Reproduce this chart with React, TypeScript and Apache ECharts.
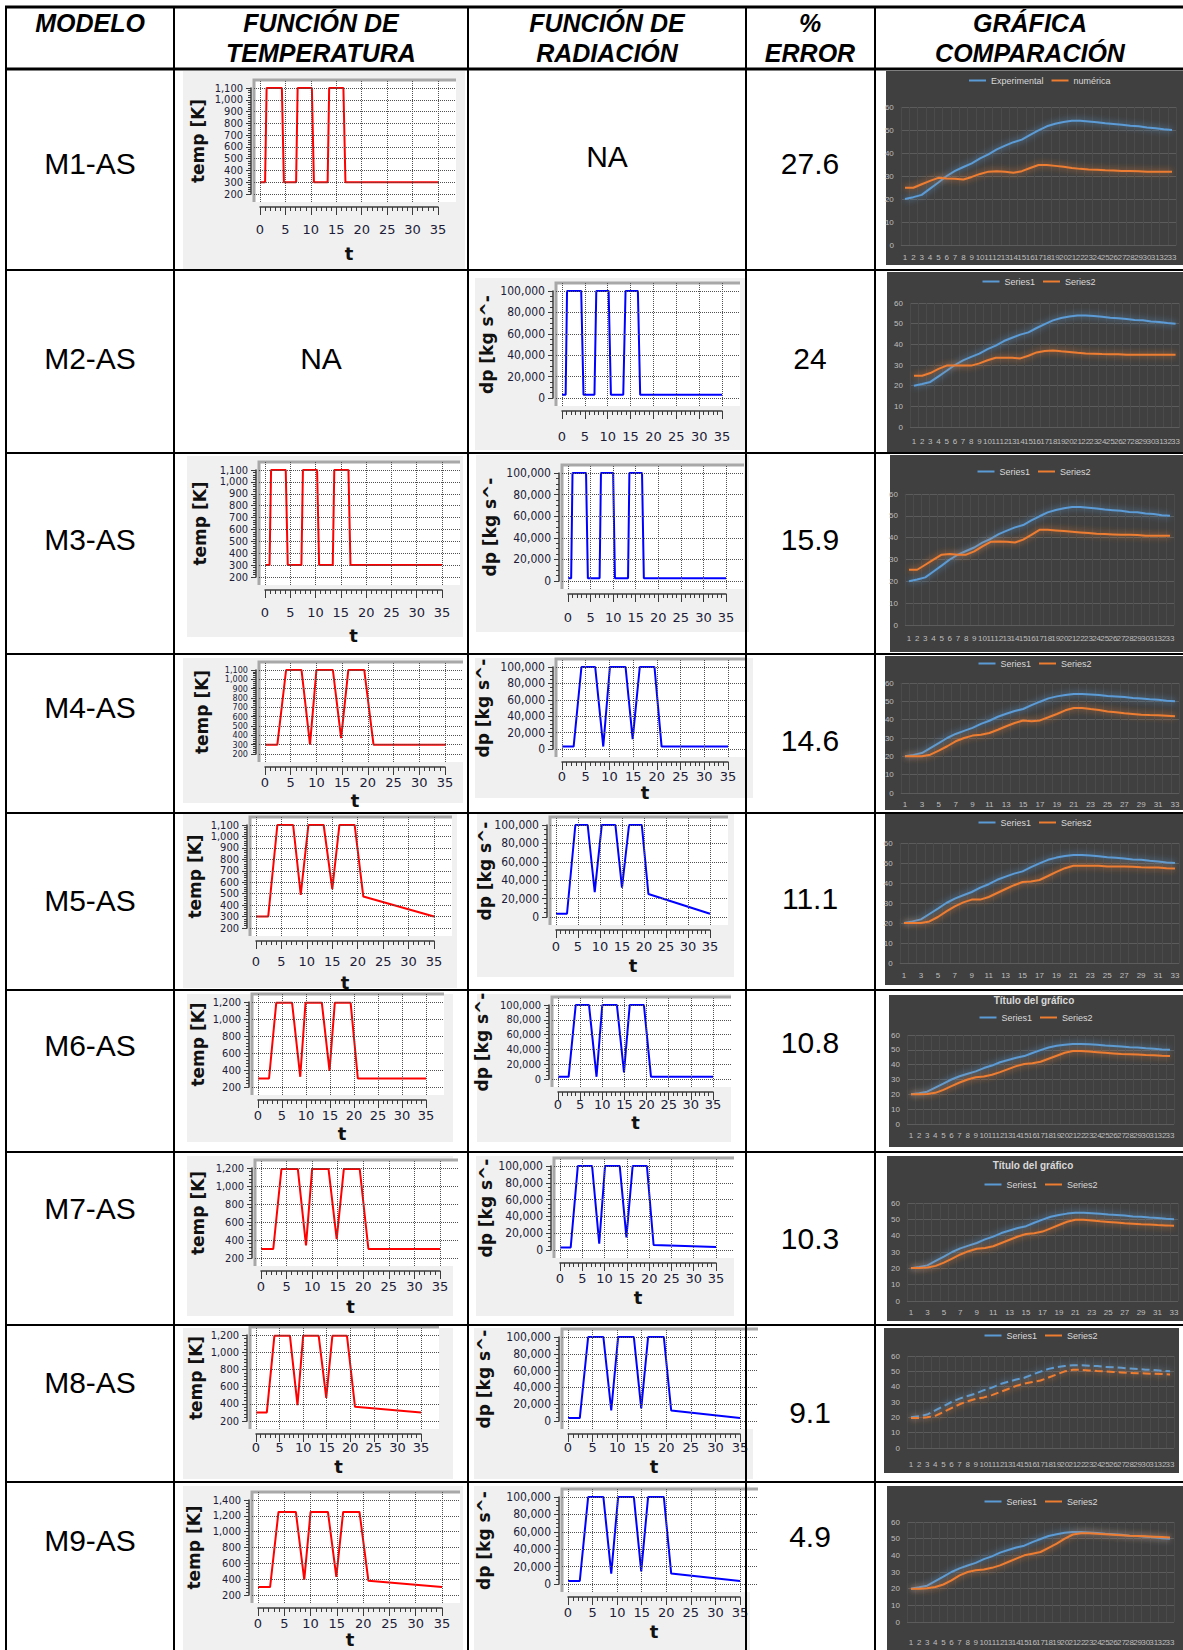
import React, { useEffect, useRef } from "react";
import * as echarts from "echarts";

type Pt = [number, number];

const W = 1183;
const H = 1650;

// ---------- table texts ----------
const headers: string[][] = [["MODELO"], ["FUNCIÓN DE", "TEMPERATURA"], ["FUNCIÓN DE", "RADIACIÓN"], ["%", "ERROR"], ["GRÁFICA", "COMPARACIÓN"]];
const models = ["M1-AS", "M2-AS", "M3-AS", "M4-AS", "M5-AS", "M6-AS", "M7-AS", "M8-AS", "M9-AS"];
const errors = ["27.6", "24", "15.9", "14.6", "11.1", "10.8", "10.3", "9.1", "4.9"];

// ---------- tick values ----------
const tTicks = [0, 5, 10, 15, 20, 25, 30, 35];
const temp1100Ticks = [200, 300, 400, 500, 600, 700, 800, 900, 1000, 1100];
const temp1200Ticks = [200, 400, 600, 800, 1000, 1200];
const temp1400Ticks = [200, 400, 600, 800, 1000, 1200, 1400];
const radTicks = [0, 20000, 40000, 60000, 80000, 100000];
const compCategories = ["1", "2", "3", "4", "5", "6", "7", "8", "9", "10", "11", "12", "13", "14", "15", "16", "17", "18", "19", "20", "21", "22", "23", "24", "25", "26", "27", "28", "29", "30", "31", "32", "33"];

// ---------- temperature functions [t, K] ----------
const tempM1: Pt[] = [[0, 300], [1.0, 300], [1.3, 1100], [4.3, 1100], [4.7, 300], [7.1, 300], [7.4, 1100], [10.2, 1100], [10.6, 300], [13.3, 300], [13.6, 1100], [16.4, 1100], [16.8, 300], [35, 300]];
const tempM3: Pt[] = [[0, 300], [0.9, 300], [1.2, 1100], [4.1, 1100], [4.5, 300], [7.2, 300], [7.5, 1100], [10.3, 1100], [10.7, 300], [13.4, 300], [13.7, 1100], [16.5, 1100], [16.9, 300], [35, 300]];
const tempM4: Pt[] = [[0, 300], [2.4, 300], [4.1, 1100], [7.1, 1100], [8.75, 300], [10.0, 1100], [13.2, 1100], [14.8, 370], [16.2, 1100], [19.3, 1100], [21.1, 300], [35, 300]];
const tempM5: Pt[] = [[0, 300], [2.4, 300], [4.2, 1100], [7.3, 1100], [8.8, 490], [10.3, 1100], [13.3, 1100], [15.0, 540], [16.4, 1100], [19.4, 1100], [21.1, 475], [35, 300]];
const tempM6: Pt[] = [[0, 300], [2.3, 300], [3.8, 1190], [7.1, 1190], [8.8, 320], [9.9, 1190], [13.3, 1190], [14.9, 390], [16.0, 1190], [19.3, 1190], [20.8, 300], [35, 300]];
const tempM7: Pt[] = [[0, 300], [2.4, 300], [4.0, 1190], [7.2, 1190], [8.8, 340], [10.0, 1190], [13.2, 1190], [14.8, 410], [16.2, 1190], [19.3, 1190], [21.0, 300], [35, 300]];
const tempM8: Pt[] = [[0, 300], [2.3, 300], [3.9, 1190], [7.2, 1190], [8.8, 385], [10.0, 1190], [13.3, 1190], [14.9, 470], [16.2, 1190], [19.3, 1190], [21.0, 365], [35, 300]];
const tempM9: Pt[] = [[0, 300], [2.3, 300], [3.9, 1250], [7.2, 1250], [8.8, 390], [10.0, 1250], [13.3, 1250], [14.9, 430], [16.2, 1250], [19.3, 1250], [21.0, 380], [35, 300]];

// ---------- radiation functions [t, dp] ----------
const radM2: Pt[] = [[0, 3000], [0.8, 3000], [1.1, 100000], [4.2, 100000], [4.7, 3000], [7.1, 3000], [7.5, 100000], [10.2, 100000], [10.7, 3000], [13.4, 3000], [13.9, 100000], [16.6, 100000], [17.1, 3000], [35, 3000]];
const radM3: Pt[] = [[0, 2500], [0.7, 2500], [1.0, 100000], [4.0, 100000], [4.4, 2500], [7.0, 2500], [7.3, 100000], [10.0, 100000], [10.4, 2500], [13.3, 2500], [13.6, 100000], [16.4, 100000], [16.8, 2500], [35, 2500]];
const radM4: Pt[] = [[0, 3000], [2.45, 3000], [4.1, 100000], [7.0, 100000], [8.7, 3000], [10.1, 100000], [13.4, 100000], [14.9, 12000], [16.4, 100000], [19.5, 100000], [21.0, 3000], [35, 3000]];
const radM5: Pt[] = [[0, 3500], [2.5, 3500], [4.4, 100000], [7.2, 100000], [8.8, 27000], [10.4, 100000], [13.5, 100000], [15.0, 32000], [16.6, 100000], [19.5, 100000], [21.0, 25000], [35, 3500]];
const radM6: Pt[] = [[0, 3000], [2.4, 3000], [4.0, 100000], [7.0, 100000], [8.7, 3000], [10.0, 100000], [13.3, 100000], [14.9, 9000], [16.2, 100000], [19.4, 100000], [21.0, 3000], [35, 3000]];
const radM7: Pt[] = [[0, 3000], [2.4, 3000], [4.0, 100000], [7.2, 100000], [8.8, 7500], [10.1, 100000], [13.4, 100000], [14.9, 15000], [16.3, 100000], [19.5, 100000], [21.0, 6000], [35, 3500]];
const radM8: Pt[] = [[0, 3500], [2.4, 3500], [4.1, 100000], [7.2, 100000], [8.8, 12500], [10.2, 100000], [13.4, 100000], [14.9, 15000], [16.3, 100000], [19.5, 100000], [21.0, 12500], [35, 3500]];
const radM9: Pt[] = [[0, 3500], [2.4, 3500], [4.1, 100000], [7.2, 100000], [8.8, 12000], [10.2, 100000], [13.4, 100000], [14.9, 14500], [16.3, 100000], [19.5, 100000], [21.0, 12000], [35, 3500]];

// ---------- comparison series ----------
const experimental = [20.0, 20.8, 21.8, 24.5, 27.2, 30.0, 32.2, 33.9, 35.5, 37.7, 39.4, 41.6, 43.2, 44.7, 45.8, 47.9, 49.8, 51.6, 52.7, 53.5, 54.0, 54.0, 53.7, 53.4, 52.9, 52.6, 52.3, 51.8, 51.6, 51.1, 50.8, 50.3, 50.0];
const numM1 = [24.9, 24.9, 26.4, 27.9, 29.2, 28.9, 28.8, 28.5, 29.6, 30.9, 31.9, 32.1, 31.8, 31.4, 32.1, 33.5, 34.8, 34.8, 34.4, 34.0, 33.5, 33.1, 32.8, 32.7, 32.5, 32.4, 32.2, 32.2, 32.1, 31.9, 31.8, 31.8, 31.8];
const numM2 = [24.8, 24.8, 26.1, 28.1, 29.7, 29.7, 29.7, 29.7, 30.8, 32.3, 33.5, 33.5, 33.5, 33.2, 34.5, 36.1, 36.8, 37.0, 36.6, 36.3, 35.9, 35.6, 35.5, 35.3, 35.2, 35.2, 35.0, 35.0, 35.0, 35.0, 35.0, 35.0, 35.0];
const numM3 = [25.3, 25.3, 27.6, 29.9, 32.2, 32.5, 32.2, 32.2, 33.7, 36.0, 38.1, 38.3, 38.1, 37.8, 39.1, 41.3, 43.6, 43.6, 43.3, 43.0, 42.7, 42.4, 42.1, 41.8, 41.7, 41.5, 41.3, 41.3, 41.2, 40.9, 40.9, 40.9, 40.9];
const numM4 = [20.0, 20.0, 20.0, 20.9, 23.1, 25.5, 28.2, 30.0, 31.3, 31.8, 32.7, 34.5, 36.4, 38.2, 39.5, 39.1, 39.6, 41.3, 43.1, 45.1, 46.4, 46.4, 45.8, 45.3, 44.5, 44.0, 43.5, 43.1, 42.7, 42.5, 42.4, 42.2, 41.8];
const numM5 = [20.0, 20.0, 20.0, 20.8, 23.0, 25.8, 28.3, 30.3, 31.7, 31.7, 33.0, 35.0, 37.0, 38.9, 40.5, 40.8, 41.5, 43.5, 45.6, 47.4, 48.6, 48.6, 48.6, 48.6, 48.2, 48.2, 48.2, 48.1, 47.9, 47.8, 47.7, 47.4, 47.2];
const numM6 = [20.0, 20.0, 20.2, 21.0, 23.0, 25.5, 28.0, 30.0, 31.5, 32.0, 33.2, 35.0, 37.0, 39.0, 40.5, 41.0, 42.0, 44.0, 46.0, 48.0, 49.2, 49.2, 48.8, 48.4, 48.0, 47.6, 47.2, 47.0, 46.8, 46.5, 46.3, 46.0, 45.8];
const numM7 = [20.2, 20.2, 20.5, 21.5, 23.5, 26.0, 28.5, 30.5, 32.0, 32.5, 33.5, 35.5, 37.5, 39.5, 41.0, 41.5, 42.5, 44.5, 46.5, 48.5, 49.8, 49.8, 49.3, 48.8, 48.4, 48.0, 47.6, 47.3, 47.0, 46.8, 46.5, 46.3, 46.0];
const numM8 = [19.5, 19.5, 20.0, 21.0, 23.5, 26.0, 28.5, 30.5, 32.0, 33.0, 34.5, 36.5, 38.5, 40.5, 42.0, 43.0, 44.0, 46.0, 48.0, 50.0, 51.0, 51.0, 50.6, 50.2, 49.9, 49.6, 49.3, 49.0, 48.8, 48.6, 48.4, 48.2, 48.0];
const numM9 = [20.0, 20.0, 20.3, 21.0, 22.5, 25.0, 28.0, 30.0, 31.0, 31.5, 32.5, 34.0, 36.0, 38.0, 40.0, 41.0, 42.0, 44.5, 47.0, 50.0, 52.5, 53.2, 53.2, 53.0, 52.7, 52.4, 52.1, 51.8, 51.6, 51.4, 51.2, 51.0, 50.7];

const FONT_TABLE = "'Liberation Sans', Arial, sans-serif";
const FONT_AXY = "'DejaVu Sans Condensed', 'DejaVu Sans', sans-serif";
const FONT_AXX = "'DejaVu Sans', sans-serif";
const FONT_XL = "'Liberation Sans Narrow', 'Liberation Sans', sans-serif";
const RED = "#ff0000";
const BLUE_FN = "#0000ff";
const BLUE = "#5b9bd5";
const ORANGE = "#ed7d31";

const fmtThousands = (v: number) => String(v).replace(/\B(?=(\d{3})+(?!\d))/g, ",");

interface SmallCfg {
  panel: number[]; x0: number; x35: number; yTop: number; yBot: number;
  ymin: number; ymax: number; step: number; yTicks: number[]; minorSplit: number; yFont: number;
  data: Pt[]; color: string; title: string; titleX: number; labelY: number; tY: number | null;
}

const TEMP_TITLE = "temp [K]";
const RAD_TITLE = "dp [kg s^-";

const smallCharts: SmallCfg[] = [
  { panel: [183, 71, 465, 269], x0: 260, x35: 438, yTop: 88, yBot: 194, ymin: 200, ymax: 1100, step: 100, yTicks: temp1100Ticks, minorSplit: 5, yFont: 11, data: tempM1, color: RED, title: TEMP_TITLE, titleX: 198, labelY: 230, tY: 253 },
  { panel: [475, 278, 745, 450], x0: 562, x35: 722, yTop: 291, yBot: 398, ymin: 0, ymax: 100000, step: 20000, yTicks: radTicks, minorSplit: 4, yFont: 12, data: radM2, color: BLUE_FN, title: RAD_TITLE, titleX: 487, labelY: 437, tY: null },
  { panel: [187, 456, 463, 637], x0: 265, x35: 442, yTop: 470, yBot: 577, ymin: 200, ymax: 1100, step: 100, yTicks: temp1100Ticks, minorSplit: 5, yFont: 11, data: tempM3, color: RED, title: TEMP_TITLE, titleX: 200, labelY: 613, tY: 635 },
  { panel: [476, 455, 749, 632], x0: 568, x35: 726, yTop: 473, yBot: 581, ymin: 0, ymax: 100000, step: 20000, yTicks: radTicks, minorSplit: 4, yFont: 12, data: radM3, color: BLUE_FN, title: RAD_TITLE, titleX: 490, labelY: 618, tY: null },
  { panel: [183, 658, 463, 803], x0: 265, x35: 445, yTop: 670, yBot: 754, ymin: 200, ymax: 1100, step: 100, yTicks: temp1100Ticks, minorSplit: 5, yFont: 9, data: tempM4, color: RED, title: TEMP_TITLE, titleX: 202, labelY: 783, tY: 800 },
  { panel: [475, 658, 753, 798], x0: 562, x35: 728, yTop: 667, yBot: 749, ymin: 0, ymax: 100000, step: 20000, yTicks: radTicks, minorSplit: 4, yFont: 12, data: radM4, color: BLUE_FN, title: RAD_TITLE, titleX: 483, labelY: 777, tY: 792 },
  { panel: [183, 813, 457, 988], x0: 256, x35: 434, yTop: 825, yBot: 928, ymin: 200, ymax: 1100, step: 100, yTicks: temp1100Ticks, minorSplit: 5, yFont: 11, data: tempM5, color: RED, title: TEMP_TITLE, titleX: 195, labelY: 962, tY: 982 },
  { panel: [477, 813, 734, 977], x0: 556, x35: 710, yTop: 825, yBot: 917, ymin: 0, ymax: 100000, step: 20000, yTicks: radTicks, minorSplit: 4, yFont: 12, data: radM5, color: BLUE_FN, title: RAD_TITLE, titleX: 485, labelY: 947, tY: 965 },
  { panel: [187, 994, 453, 1142], x0: 258, x35: 426, yTop: 1002, yBot: 1087, ymin: 200, ymax: 1200, step: 200, yTicks: temp1200Ticks, minorSplit: 5, yFont: 11, data: tempM6, color: RED, title: TEMP_TITLE, titleX: 198, labelY: 1116, tY: 1133 },
  { panel: [477, 994, 731, 1142], x0: 558, x35: 713, yTop: 1005, yBot: 1079, ymin: 0, ymax: 100000, step: 20000, yTicks: radTicks, minorSplit: 4, yFont: 11, data: radM6, color: BLUE_FN, title: RAD_TITLE, titleX: 482, labelY: 1105, tY: 1122 },
  { panel: [187, 1156, 453, 1316], x0: 261, x35: 440, yTop: 1168, yBot: 1258, ymin: 200, ymax: 1200, step: 200, yTicks: temp1200Ticks, minorSplit: 5, yFont: 11, data: tempM7, color: RED, title: TEMP_TITLE, titleX: 198, labelY: 1287, tY: 1306 },
  { panel: [476, 1156, 734, 1316], x0: 560, x35: 716, yTop: 1166, yBot: 1250, ymin: 0, ymax: 100000, step: 20000, yTicks: radTicks, minorSplit: 4, yFont: 12, data: radM7, color: BLUE_FN, title: RAD_TITLE, titleX: 486, labelY: 1279, tY: 1297 },
  { panel: [183, 1328, 453, 1479], x0: 256, x35: 421, yTop: 1335, yBot: 1421, ymin: 200, ymax: 1200, step: 200, yTicks: temp1200Ticks, minorSplit: 5, yFont: 11, data: tempM8, color: RED, title: TEMP_TITLE, titleX: 196, labelY: 1448, tY: 1466 },
  { panel: [474, 1328, 753, 1479], x0: 568, x35: 740, yTop: 1337, yBot: 1421, ymin: 0, ymax: 100000, step: 20000, yTicks: radTicks, minorSplit: 4, yFont: 12, data: radM8, color: BLUE_FN, title: RAD_TITLE, titleX: 484, labelY: 1448, tY: 1466 },
  { panel: [183, 1486, 463, 1650], x0: 258, x35: 442, yTop: 1500, yBot: 1595, ymin: 200, ymax: 1400, step: 200, yTicks: temp1400Ticks, minorSplit: 5, yFont: 11, data: tempM9, color: RED, title: TEMP_TITLE, titleX: 194, labelY: 1624, tY: 1639 },
  { panel: [474, 1486, 750, 1650], x0: 568, x35: 740, yTop: 1497, yBot: 1584, ymin: 0, ymax: 100000, step: 20000, yTicks: radTicks, minorSplit: 4, yFont: 12, data: radM9, color: BLUE_FN, title: RAD_TITLE, titleX: 484, labelY: 1613, tY: 1631 },
];

interface CompCfg {
  panel: number[]; cat1: number; cat33: number; y60: number; y0: number;
  legendY: number; legendCx: number; labelsY: number; odd: boolean; dashed: boolean;
  names: string[]; num: number[]; title?: string; titleY?: number;
}

const S12 = ["Series1", "Series2"];
const compCharts: CompCfg[] = [
  { panel: [886, 71, 1183, 265], cat1: 905, cat33: 1172, y60: 107, y0: 245, legendY: 82, legendCx: 1040, labelsY: 257, odd: false, dashed: false, names: ["Experimental", "numérica"], num: numM1 },
  { panel: [887, 272, 1183, 452], cat1: 914, cat33: 1176, y60: 303, y0: 427, legendY: 283, legendCx: 1040, labelsY: 441, odd: false, dashed: false, names: S12, num: numM2 },
  { panel: [890, 455, 1183, 652], cat1: 909, cat33: 1170, y60: 494, y0: 625, legendY: 473, legendCx: 1035, labelsY: 638, odd: false, dashed: false, names: S12, num: numM3 },
  { panel: [885, 656, 1183, 810], cat1: 905, cat33: 1175, y60: 683, y0: 793, legendY: 665, legendCx: 1036, labelsY: 804, odd: true, dashed: false, names: S12, num: numM4 },
  { panel: [885, 814, 1183, 985], cat1: 904, cat33: 1175, y60: 843, y0: 963, legendY: 824, legendCx: 1036, labelsY: 975, odd: true, dashed: false, names: S12, num: numM5 },
  { panel: [889, 995, 1183, 1147], cat1: 911, cat33: 1170, y60: 1035, y0: 1124, legendY: 1019, legendCx: 1037, labelsY: 1135, odd: false, dashed: false, names: S12, num: numM6, title: "Título del gráfico", titleY: 999 },
  { panel: [887, 1156, 1183, 1321], cat1: 911, cat33: 1174, y60: 1203, y0: 1301, legendY: 1186, legendCx: 1042, labelsY: 1312, odd: true, dashed: false, names: S12, num: numM7, title: "Título del gráfico", titleY: 1164 },
  { panel: [884, 1328, 1179, 1473], cat1: 911, cat33: 1170, y60: 1356, y0: 1448, legendY: 1337, legendCx: 1042, labelsY: 1464, odd: false, dashed: true, names: S12, num: numM8 },
  { panel: [887, 1486, 1183, 1650], cat1: 911, cat33: 1170, y60: 1522, y0: 1622, legendY: 1503, legendCx: 1042, labelsY: 1642, odd: false, dashed: false, names: S12, num: numM9 },
];

// table layout
const rowLines = [270, 453, 654, 813, 990, 1152, 1325, 1482];
const colLines = [6, 174, 468, 746, 875];
const headerCenters = [90, 321, 607, 810, 1030];
const modelY = [163, 358, 539, 707, 900, 1045, 1208, 1382, 1540];
const errorY = [163, 358, 539, 740, 898, 1042, 1238, 1412, 1536];

function buildOption(): any {
  const grid: any[] = [];
  const xAxis: any[] = [];
  const yAxis: any[] = [];
  const series: any[] = [];
  const graphic: any[] = [];
  const legend: any[] = [];

  const addGrid = (g: any, xa: any, ya: any) => {
    const i = grid.length;
    grid.push({ ...g, containLabel: false, show: false });
    xAxis.push({ ...xa, gridIndex: i });
    yAxis.push({ ...ya, gridIndex: i });
    return i;
  };
  const addText = (x: number, y: number, t: string, font: string, fill = "#000", rotation = 0) => {
    graphic.push({
      type: "text", x, y, rotation, z: 20, silent: true,
      style: { text: t, font, fill, align: "center", verticalAlign: "middle", textAlign: "center", textVerticalAlign: "middle" },
    });
  };
  const addRect = (p: number[], fill: string, z: number) => {
    graphic.push({ type: "rect", z, silent: true, shape: { x: p[0], y: p[1], width: p[2] - p[0], height: p[3] - p[1] }, style: { fill } });
  };

  // ---- small function charts ----
  for (const c of smallCharts) {
    const wl = c.x0 - 6, wr = c.x35 + 18, wt = c.yTop - 8, wb = c.yBot + 8;
    const pxT = (c.x35 - c.x0) / 35;
    const pxY = (c.yBot - c.yTop) / (c.ymax - c.ymin);
    const axisY = wb + 5;
    addRect(c.panel, "#f0f0f0", -3);
    addRect([wl, wt, wr, wb], "#ffffff", -2);
    graphic.push({ type: "polyline", z: -1, silent: true, shape: { points: [[wl, wb], [wl, wt], [wr, wt]] }, style: { stroke: "#a8a8a8", lineWidth: 3, fill: null } });

    const bi = addGrid(
      { left: wl, top: wt, width: wr - wl, height: wb - wt },
      { type: "value", min: -6 / pxT, max: 35 + 18 / pxT, show: false },
      { type: "value", min: c.ymin - 8 / pxY, max: c.ymax + 8 / pxY, show: false }
    );
    series.push({
      type: "line", xAxisIndex: bi, yAxisIndex: bi, data: [[0, c.ymin]], symbol: "none", showSymbol: false,
      lineStyle: { width: 0, opacity: 0 }, silent: true, z: 1,
      markLine: {
        silent: true, symbol: ["none", "none"], label: { show: false },
        lineStyle: { type: "dotted", color: "#505050", width: 1 },
        data: [...tTicks.map((v) => ({ xAxis: v })), ...c.yTicks.map((v) => ({ yAxis: v }))],
      },
    });

    const axColor = "#3a3a3a";
    const di = addGrid(
      { left: c.x0, top: c.yTop, width: c.x35 - c.x0, height: c.yBot - c.yTop },
      {
        type: "value", min: 0, max: 35, interval: 5, position: "bottom", offset: axisY - c.yBot,
        axisLine: { show: true, onZero: false, lineStyle: { color: axColor, width: 1.5 } },
        axisTick: { show: true, length: 8, lineStyle: { color: axColor, width: 1 } },
        minorTick: { show: true, splitNumber: 5, length: 4, lineStyle: { color: axColor, width: 1 } },
        splitLine: { show: false }, minorSplitLine: { show: false },
        axisLabel: { color: "#1c1c38", fontSize: 13, fontFamily: FONT_AXX, margin: c.labelY - axisY - 7, showMinLabel: true, showMaxLabel: true, hideOverlap: false },
      },
      {
        type: "value", min: c.ymin, max: c.ymax, interval: c.step, position: "left", offset: c.x0 - (wl - 3),
        axisLine: { show: true, onZero: false, lineStyle: { color: axColor, width: 1.5 } },
        axisTick: { show: true, length: 5, lineStyle: { color: axColor, width: 1 } },
        minorTick: { show: true, splitNumber: c.minorSplit, length: 3, lineStyle: { color: axColor, width: 1 } },
        splitLine: { show: false }, minorSplitLine: { show: false },
        axisLabel: { color: "#1c1c38", fontSize: c.yFont, lineHeight: c.yFont, fontFamily: FONT_AXY, margin: 8, formatter: fmtThousands, showMinLabel: true, showMaxLabel: true, hideOverlap: false },
      }
    );
    series.push({
      type: "line", xAxisIndex: di, yAxisIndex: di, data: c.data, symbol: "none", showSymbol: false,
      lineStyle: { color: c.color, width: 2 }, itemStyle: { color: c.color }, z: 3, clip: false, silent: true,
    });
    addText(c.titleX, (c.yTop + c.yBot) / 2, c.title, "bold 17px 'DejaVu Sans', sans-serif", "#111", Math.PI / 2);
    if (c.tY !== null) addText((c.x0 + c.x35) / 2, c.tY, "t", "bold 18px 'DejaVu Sans', sans-serif", "#111");
  }

  // ---- comparison charts ----
  for (const c of compCharts) {
    addRect(c.panel, "#404040", -3);
    const stepX = (c.cat33 - c.cat1) / 32;
    const gi = addGrid(
      { left: c.cat1 - stepX / 2, top: c.y60, width: stepX * 33, height: c.y0 - c.y60 },
      {
        type: "category", data: compCategories, boundaryGap: true,
        axisLine: { show: false }, axisTick: { show: false },
        splitLine: { show: true, interval: 0, lineStyle: { color: "#4b4b4b", width: 1 } },
        axisLabel: { interval: c.odd ? 1 : 0, color: "#bfbfbf", fontSize: 8, fontFamily: FONT_XL, margin: c.labelsY - c.y0 - 4, hideOverlap: false },
      },
      {
        type: "value", min: 0, max: 60, interval: 10,
        axisLine: { show: false }, axisTick: { show: false },
        splitLine: { show: true, lineStyle: { color: "#5c5c5c", width: 1 } },
        axisLabel: { color: "#bfbfbf", fontSize: 8, fontFamily: FONT_XL, margin: 7, showMinLabel: true, showMaxLabel: true },
      }
    );
    const ltype = c.dashed ? "dashed" : "solid";
    series.push({
      name: c.names[0], type: "line", xAxisIndex: gi, yAxisIndex: gi, data: experimental, symbol: "none", showSymbol: false, silent: true,
      lineStyle: { color: BLUE, width: 2, type: ltype, shadowBlur: 6, shadowColor: "rgba(91,155,213,0.9)" }, itemStyle: { color: BLUE }, z: 3,
    });
    series.push({
      name: c.names[1], type: "line", xAxisIndex: gi, yAxisIndex: gi, data: c.num, symbol: "none", showSymbol: false, silent: true,
      lineStyle: { color: ORANGE, width: 2, type: ltype, shadowBlur: 6, shadowColor: "rgba(237,125,49,0.9)" }, itemStyle: { color: ORANGE }, z: 4,
    });
    const est = 17 * 2 + 5 * 2 + 8 + (c.names[0].length + c.names[1].length) * 9 * 0.5;
    legend.push({
      show: true, data: c.names, left: c.legendCx - est / 2, top: c.legendY - 6, icon: "rect",
      itemWidth: 17, itemHeight: 2, itemGap: 8, selectedMode: false, padding: 0,
      textStyle: { color: "#d9d9d9", fontSize: 9, fontFamily: FONT_XL },
    });
    if (c.title && c.titleY) addText((c.panel[0] + c.panel[2]) / 2 - 2, c.titleY + 1, c.title, "bold 10px 'Liberation Sans', sans-serif", "#d9d9d9");
  }

  // ---- table ----
  const line = (x1: number, y1: number, x2: number, y2: number, w: number) =>
    graphic.push({ type: "line", z: 30, silent: true, shape: { x1, y1, x2, y2 }, style: { stroke: "#000", lineWidth: w } });
  line(5, 7, W, 7, 3);
  line(5, 69, W, 69, 3);
  for (const y of rowLines) line(5, y, W, y, 2);
  for (const x of colLines) line(x, 6, x, H, 2);

  const hFont = "italic bold 25px 'Liberation Sans', Arial, sans-serif";
  headers.forEach((lines, i) => {
    lines.forEach((t, j) => addText(headerCenters[i], 23 + j * 30, t, hFont));
  });
  const bodyFont = "30px 'Liberation Sans', Arial, sans-serif";
  models.forEach((m, i) => addText(90, modelY[i], m, bodyFont));
  errors.forEach((e, i) => addText(810, errorY[i], e, bodyFont));
  addText(607, 156, "NA", bodyFont);
  addText(321, 358, "NA", bodyFont);

  return {
    animation: false,
    backgroundColor: "#ffffff",
    textStyle: { fontFamily: FONT_TABLE },
    grid, xAxis, yAxis, series, legend, graphic,
  };
}

export default function App() {
  const ref = useRef<HTMLDivElement>(null);
  useEffect(() => {
    if (!ref.current) return;
    const chart = echarts.init(ref.current, null, { renderer: "svg", width: W, height: H });
    chart.setOption(buildOption());
    return () => chart.dispose();
  }, []);
  return <div ref={ref} style={{ position: "absolute", left: 0, top: 0, width: W, height: H, background: "#fff" }} />;
}
